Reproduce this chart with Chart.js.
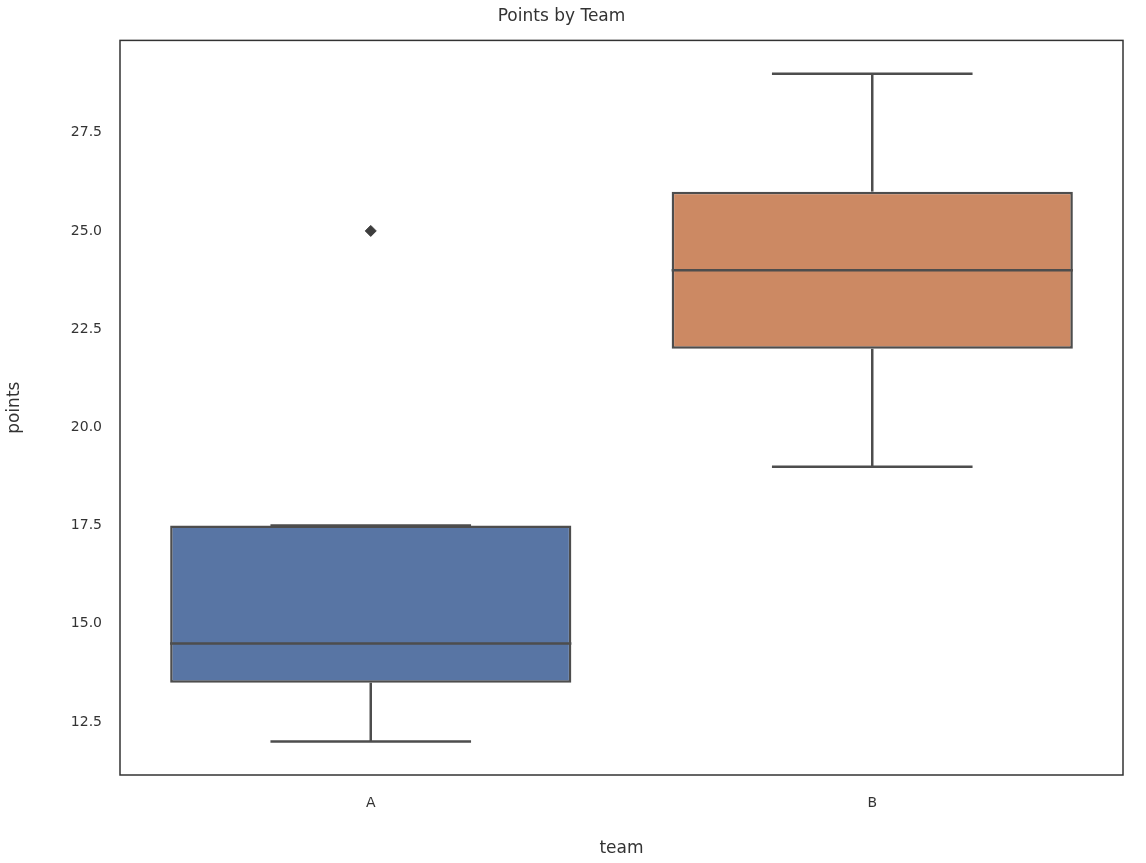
<!DOCTYPE html>
<html><head><meta charset="utf-8">
<script src="https://cdn.jsdelivr.net/npm/chart.js@4"></script>
<style>html,body{margin:0;padding:0;background:#fff}#w{width:1146px;height:863px}</style>
</head><body><div id="w"><canvas id="c"></canvas></div>
<script>
const categories = ['A', 'B'];
const whiskerLow = [12, 19];
const q1 = [13.5, 22];
const median = [14.5, 24];
const q3 = [17.5, 26];
const whiskerHigh = [17.5, 29];
const outliers = [25, null];
const boxColors = ['#5875a4', '#cc8963'];
const yTicks = [12.5, 15, 17.5, 20, 22.5, 25, 27.5];
const LINE = '#4d4d4d';

const boxPlugin = {
  id: 'boxParts',
  afterDatasetsDraw(chart) {
    const ctx = chart.ctx, y = chart.scales.y;
    const meta = chart.getDatasetMeta(0);
    ctx.save();
    ctx.strokeStyle = LINE; ctx.lineWidth = 2.5; ctx.lineCap = 'butt';
    meta.data.forEach((bar, i) => {
      const cx = bar.x, hw = bar.width / 2;
      const line = (x1, y1, x2, y2) => { ctx.beginPath(); ctx.moveTo(x1, y1); ctx.lineTo(x2, y2); ctx.stroke(); };
      line(cx - hw, y.getPixelForValue(median[i]), cx + hw, y.getPixelForValue(median[i]));
      line(cx, y.getPixelForValue(q3[i]), cx, y.getPixelForValue(whiskerHigh[i]));
      line(cx, y.getPixelForValue(q1[i]), cx, y.getPixelForValue(whiskerLow[i]));
      line(cx - hw / 2, y.getPixelForValue(whiskerHigh[i]), cx + hw / 2, y.getPixelForValue(whiskerHigh[i]));
      line(cx - hw / 2, y.getPixelForValue(whiskerLow[i]), cx + hw / 2, y.getPixelForValue(whiskerLow[i]));
    });
    const a = chart.chartArea;
    ctx.strokeStyle = '#333'; ctx.lineWidth = 1.5;
    ctx.strokeRect(a.left, a.top, a.right - a.left, a.bottom - a.top);
    ctx.restore();
  }
};

new Chart(document.getElementById('c'), {
  data: {
    labels: categories,
    datasets: [{
      type: 'bar',
      data: categories.map((c, i) => [q1[i], q3[i]]),
      backgroundColor: boxColors,
      borderColor: LINE, borderWidth: 2.5, borderSkipped: false,
      barPercentage: 0.8, categoryPercentage: 1
    }, {
      type: 'line',
      data: outliers,
      showLine: false,
      pointStyle: 'rectRot', pointRadius: 5.5,
      pointBackgroundColor: '#3d3d3d', pointBorderColor: '#3d3d3d'
    }]
  },
  options: {
    responsive: true, maintainAspectRatio: false, animation: false,
    layout: { padding: { left: 0, right: 23, top: 0, bottom: 0 } },
    plugins: {
      legend: { display: false }, tooltip: { enabled: false },
      title: { display: true, text: 'Points by Team', color: '#333',
        font: { family: 'DejaVu Sans', size: 17, weight: 'normal' }, padding: { top: 6, bottom: 14 } }
    },
    scales: {
      x: {
        grid: { display: false, drawTicks: false }, border: { display: false },
        ticks: { color: '#333', font: { family: 'DejaVu Sans', size: 14 }, padding: 20 },
        title: { display: true, text: 'team', color: '#333', font: { family: 'DejaVu Sans', size: 17 }, padding: { top: 8 } },
        afterFit(s) { s.height = 88; }
      },
      y: {
        min: 11.15, max: 29.85,
        afterBuildTicks(s) { s.ticks = yTicks.map(v => ({ value: v })); },
        grid: { display: false, drawTicks: false }, border: { display: false },
        ticks: { color: '#333', font: { family: 'DejaVu Sans', size: 14 }, padding: 18,
          callback: v => Number(v).toFixed(1) },
        title: { display: true, text: 'points', color: '#333', font: { family: 'DejaVu Sans', size: 17 } },
        afterFit(s) { s.width = 120; }
      }
    }
  },
  plugins: [boxPlugin]
});
</script></body></html>
